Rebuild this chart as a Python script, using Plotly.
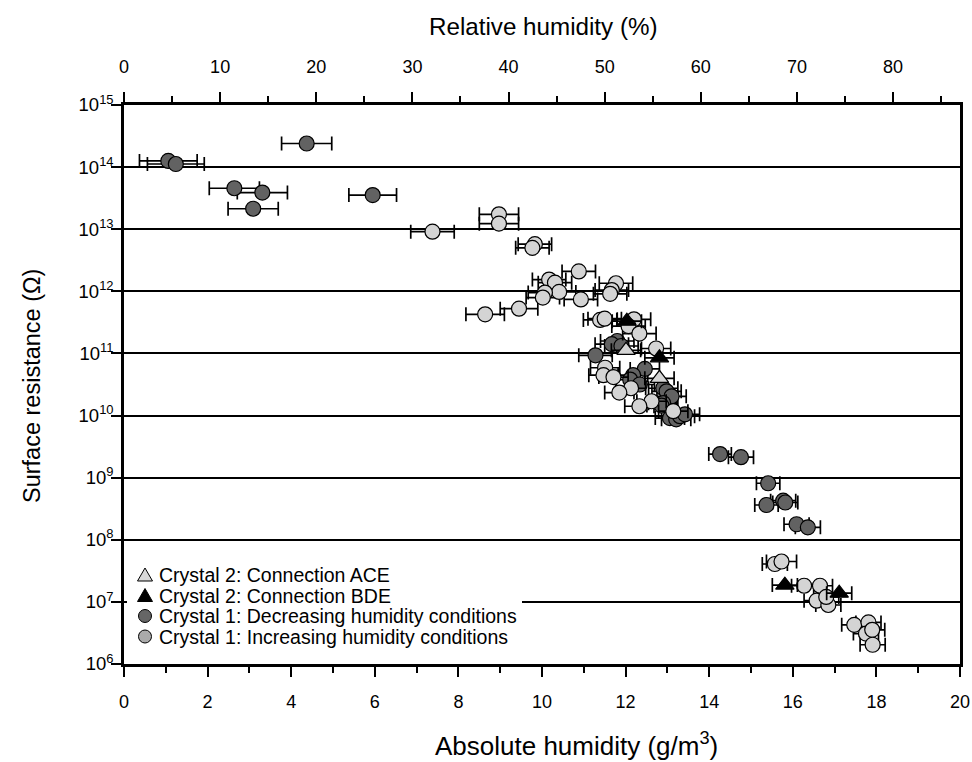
import plotly.graph_objects as go

# ---------------- data ----------------
# Crystal 1: decreasing humidity conditions
dec_x = [1.06, 1.24, 4.37, 2.64, 3.31, 3.09, 5.95,
         11.80, 11.67, 11.90, 11.28, 12.46, 12.18, 12.11, 12.34, 12.90, 12.98,
         13.10, 12.90, 12.86, 13.06, 13.21, 13.30, 13.42,
         14.26, 14.76, 15.41, 15.37, 15.77, 15.82, 16.09, 16.36]
dec_logR = [14.10, 14.05, 14.38, 13.66, 13.59, 13.33, 13.55,
            11.20, 11.15, 11.12, 10.97, 10.75, 10.65, 10.58, 10.50, 10.44, 10.39,
            10.31, 10.20, 10.16, 9.96, 9.94, 9.99, 10.02,
            9.38, 9.33, 8.91, 8.56, 8.63, 8.60, 8.25, 8.20]
dec_err = [0.69, 0.68, 0.60, 0.60, 0.60, 0.60, 0.57,
           0.40, 0.40, 0.40, 0.40, 0.35, 0.35, 0.35, 0.35, 0.35, 0.35,
           0.35, 0.35, 0.35, 0.35, 0.35, 0.35, 0.35,
           0.27, 0.30, 0.28, 0.28, 0.30, 0.30, 0.30, 0.30]

# Crystal 1: increasing humidity conditions
inc_x = [8.97, 8.97, 7.38, 9.83, 9.77,
         10.88, 10.17, 10.31, 11.77, 11.67, 11.63, 10.41, 10.07, 10.02, 10.93, 9.45, 8.64,
         11.39, 11.50, 12.20, 12.07, 12.33, 12.73, 11.51, 11.47, 11.71, 12.13, 11.85,
         12.62, 12.33, 13.14,
         15.57, 15.73, 16.27, 16.65, 16.57, 16.85, 16.80, 17.47, 17.81, 17.75, 17.90, 17.91]
inc_logR = [13.24, 13.09, 12.96, 12.76, 12.70,
            12.32, 12.19, 12.14, 12.13, 12.02, 11.96, 11.99, 11.98, 11.90, 11.87, 11.72, 11.63,
            11.54, 11.56, 11.55, 11.44, 11.32, 11.08, 10.77, 10.65, 10.62, 10.44, 10.37,
            10.23, 10.15, 10.07,
            7.61, 7.65, 7.26, 7.26, 7.02, 6.95, 7.08, 6.63, 6.67, 6.49, 6.55, 6.31]
inc_err = [0.47, 0.47, 0.52, 0.40, 0.40,
           0.40, 0.40, 0.40, 0.40, 0.40, 0.40, 0.40, 0.40, 0.40, 0.40, 0.45, 0.46,
           0.40, 0.40, 0.40, 0.40, 0.40, 0.35, 0.35, 0.35, 0.35, 0.35, 0.35,
           0.35, 0.35, 0.35,
           0.30, 0.36, 0.30, 0.30, 0.30, 0.30, 0.30, 0.30, 0.30, 0.30, 0.30, 0.30]

# Crystal 2: connection ACE
ace_x = [12.01, 12.81]
ace_logR = [11.05, 10.60]
ace_err = [0.35, 0.35]

# Crystal 2: connection BDE
bde_x = [12.03, 12.81, 15.81, 17.11]
bde_logR = [11.52, 10.93, 7.27, 7.14]
bde_err = [0.35, 0.35, 0.30, 0.30]

decades = [6, 7, 8, 9, 10, 11, 12, 13, 14, 15]
x_ticks = [0, 2, 4, 6, 8, 10, 12, 14, 16, 18, 20]
rh_ticks = [0, 10, 20, 30, 40, 50, 60, 70, 80]
rh_max = 86.96  # relative humidity (%) at 20 g/m3

legend_names = ["Crystal 2: Connection ACE", "Crystal 2: Connection BDE",
                "Crystal 1: Decreasing humidity conditions",
                "Crystal 1: Increasing humidity conditions"]
legend_fill = ["#d8d8d8", "black", "#666666", "#aaaaaa"]
legend_symbol = ["triangle", "triangle", "circle", "circle"]

# ---------------- styling ----------------
FONT = "Liberation Sans, Arial, Helvetica, sans-serif"
DARK = "#626262"
LIGHT = "#d4d4d4"

# plot area in pixels (for legend placement)
L, R, T, B = 124, 960, 105, 664
PW, PH = R - L, B - T


def px_x(p):
    return (p - L) / PW


def px_y(p):
    return (B - p) / PH


def pw(v):
    return [10 ** a for a in v]


def err(e):
    return dict(type="data", array=e, visible=True, color="black",
                thickness=1.7, width=7)


fig = go.Figure()

fig.add_trace(go.Scatter(x=dec_x, y=pw(dec_logR), mode="markers", showlegend=False,
                         name=legend_names[2], error_x=err(dec_err),
                         marker=dict(symbol="circle", size=15, color=DARK,
                                     line=dict(color="black", width=1.2))))
fig.add_trace(go.Scatter(x=inc_x, y=pw(inc_logR), mode="markers", showlegend=False,
                         name=legend_names[3], error_x=err(inc_err),
                         marker=dict(symbol="circle", size=15, color=LIGHT,
                                     line=dict(color="black", width=1.2))))
fig.add_trace(go.Scatter(x=ace_x, y=pw(ace_logR), mode="markers", showlegend=False,
                         name=legend_names[0], error_x=err(ace_err),
                         marker=dict(symbol="triangle-up", size=16, color=LIGHT,
                                     line=dict(color="black", width=1.2))))
fig.add_trace(go.Scatter(x=bde_x, y=pw(bde_logR), mode="markers", showlegend=False,
                         name=legend_names[1], error_x=err(bde_err),
                         marker=dict(symbol="triangle-up", size=16, color="black",
                                     line=dict(color="black", width=1.2))))

# top axis carrier
fig.add_trace(go.Scatter(x=[None], y=[None], xaxis="x2", showlegend=False,
                         mode="markers"))

# ---------------- legend (drawn in the lower-left corner) ----------------
shapes = [dict(type="rect", xref="paper", yref="paper", layer="above",
               x0=px_x(127), x1=px_x(522), y0=px_y(649), y1=px_y(561),
               fillcolor="white", line=dict(width=0))]
annotations = []
rows = [575, 595.5, 616, 636.5]
for name, fill, sym, ry in zip(legend_names, legend_fill, legend_symbol, rows):
    if sym == "circle":
        shapes.append(dict(type="circle", xref="paper", yref="paper", layer="above",
                           xsizemode="pixel", ysizemode="pixel",
                           xanchor=px_x(145), yanchor=px_y(ry),
                           x0=-6.5, x1=6.5, y0=-6.5, y1=6.5,
                           fillcolor=fill, line=dict(color="black", width=1)))
    else:
        shapes.append(dict(type="path", xref="paper", yref="paper", layer="above",
                           xsizemode="pixel", ysizemode="pixel",
                           xanchor=px_x(145), yanchor=px_y(ry),
                           path="M -7.5,-6 L 7.5,-6 L 0,7 Z",
                           fillcolor=fill, line=dict(color="black", width=1)))
    annotations.append(dict(text=name, xref="paper", yref="paper",
                            x=px_x(157), y=px_y(ry), xanchor="left", yanchor="middle",
                            showarrow=False, font=dict(family=FONT, size=19.5,
                                                       color="black")))

# ---------------- axis titles ----------------
annotations += [
    dict(text="Relative humidity (%)", xref="paper", yref="paper",
         x=px_x(543), y=px_y(26), xanchor="center", yanchor="middle",
         showarrow=False, font=dict(family=FONT, size=24.2)),
    dict(text="Absolute humidity (g/m<sup>3</sup>)", xref="paper", yref="paper",
         x=px_x(576), y=px_y(744), xanchor="center", yanchor="middle",
         showarrow=False, font=dict(family=FONT, size=26)),
    dict(text="Surface resistance (Ω)", xref="paper", yref="paper",
         x=px_x(32), y=px_y(386), xanchor="center", yanchor="middle",
         textangle=-90, showarrow=False, font=dict(family=FONT, size=23.5)),
]

fig.update_layout(
    width=972, height=762,
    margin=dict(l=L, r=972 - R, t=T, b=762 - B, autoexpand=False),
    paper_bgcolor="white", plot_bgcolor="white",
    font=dict(family=FONT, size=18, color="black"),
    showlegend=False,
    shapes=shapes, annotations=annotations,
    xaxis=dict(range=[0, 20], tickvals=x_ticks, ticks="outside", ticklen=10,
               tickwidth=1.5, tickcolor="black", showline=True, linecolor="black",
               linewidth=2.5, mirror=False, showgrid=False, zeroline=False,
               automargin=False, ticklabelstandoff=10,
               tickfont=dict(size=18),
               minor=dict(dtick=1, ticks="outside", ticklen=6, tickwidth=1.5,
                          tickcolor="black", showgrid=False)),
    xaxis2=dict(range=[0, rh_max], overlaying="x", side="top", tickvals=rh_ticks,
                ticks="outside", ticklen=10, tickwidth=1.5, tickcolor="black",
                showline=True, linecolor="black", linewidth=2.5, showgrid=False,
                zeroline=False, automargin=False, ticklabelstandoff=12,
                tickfont=dict(size=18),
                minor=dict(dtick=5, ticks="outside", ticklen=6, tickwidth=1.5,
                           tickcolor="black", showgrid=False)),
    yaxis=dict(type="log", range=[6, 15], tickvals=[10 ** d for d in decades],
               ticktext=[f"10<sup>{d}</sup>" for d in decades],
               ticks="outside", ticklen=10, tickwidth=1.5, tickcolor="black",
               showline=True, linecolor="black", linewidth=2.5, mirror=True,
               showgrid=True, gridcolor="black", gridwidth=2, zeroline=False,
               automargin=False, ticklabelstandoff=-6,
               tickfont=dict(size=18.5)),
)

fig.write_html("out.html")
